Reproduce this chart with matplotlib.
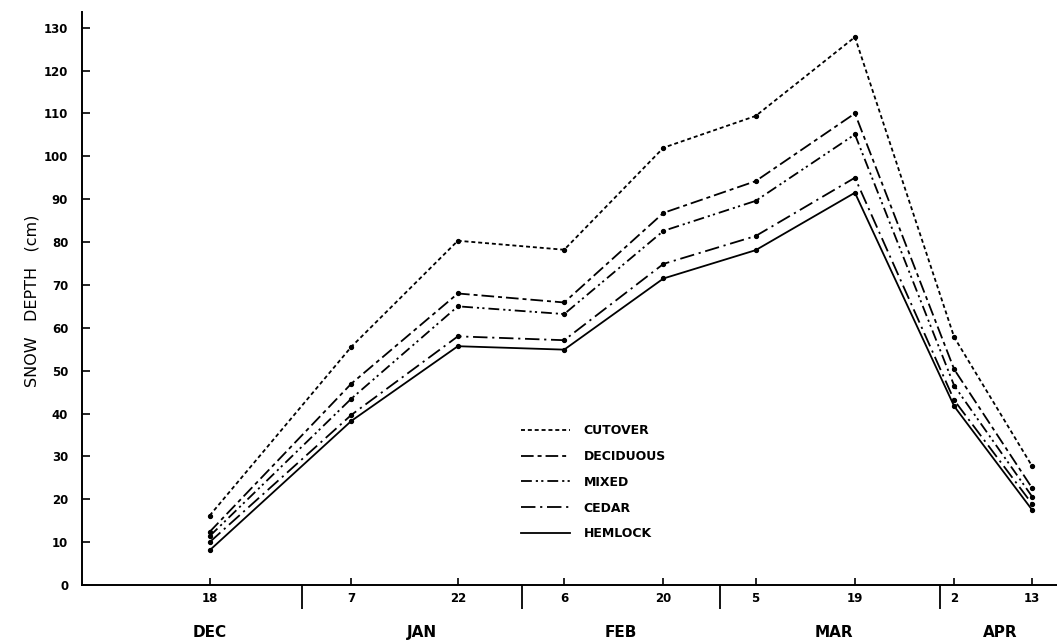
import matplotlib
matplotlib.use("Agg")
import matplotlib.pyplot as plt
import matplotlib.dates as mdates
import numpy as np

# ---- data ----
dates = ["1974-12-18", "1975-01-07", "1975-01-22", "1975-02-06", "1975-02-20",
         "1975-03-05", "1975-03-19", "1975-04-02", "1975-04-13"]
day_labels = ["18", "7", "22", "6", "20", "5", "19", "2", "13"]
months = ["DEC", "JAN", "FEB", "MAR", "APR"]

cutover   = [16.2, 55.6, 80.3, 78.2, 102.0, 109.4, 127.8, 57.8, 27.7]
deciduous = [12.4, 47.0, 68.0, 65.9, 86.8, 94.2, 110.0, 50.3, 22.6]
mixed     = [11.4, 43.5, 65.0, 63.2, 82.6, 89.6, 105.1, 46.5, 20.6]
cedar     = [10.0, 39.7, 58.0, 57.1, 74.9, 81.4, 95.0, 43.1, 18.9]
hemlock   = [8.1, 38.3, 55.7, 54.9, 71.5, 78.1, 91.5, 41.7, 17.5]

series_names = ["CUTOVER", "DECIDUOUS", "MIXED", "CEDAR", "HEMLOCK"]
series_vals = [cutover, deciduous, mixed, cedar, hemlock]

# ---- layout / style ----
styles = [(0, (2.2, 1.6)),
          (0, (7, 2.2, 2.2, 2.2)),
          (0, (6, 2.2, 1.2, 1.8, 1.2, 2.2)),
          (0, (8, 2.6, 1.2, 2.6)),
          "-"]
month_label_dates = ["1974-12-18", "1975-01-17", "1975-02-14", "1975-03-16", "1975-04-08T12"]
month_sep_dates = ["1974-12-31", "1975-01-31", "1975-02-28", "1975-03-31"]

x = mdates.date2num([np.datetime64(d) for d in dates])

fig = plt.figure(figsize=(10.57, 6.4), dpi=100)
ax = fig.add_axes([0.0776, 0.0859, 0.9224, 0.895])

for name, vals, ls in zip(series_names, series_vals, styles):
    ax.plot(x, vals, linestyle=ls, color="black", lw=1.3,
            marker="o", markersize=2.8, label=name)

ax.set_ylim(0, 133.6)
ax.set_xlim(mdates.date2num(np.datetime64("1974-11-30")),
            mdates.date2num(np.datetime64("1975-04-16T12")))

ax.set_yticks(np.arange(0, 131, 10))
ax.set_yticklabels([str(v) for v in range(0, 131, 10)],
                   fontsize=8.5, fontweight="bold")
ax.tick_params(axis="y", direction="in", length=6, width=1.2, pad=10)

ax.set_xticks(x)
ax.set_xticklabels(day_labels, fontsize=8.5, fontweight="bold")
ax.tick_params(axis="x", which="major", direction="in", length=5, width=1.2, pad=5)

sep = mdates.date2num([np.datetime64(d) for d in month_sep_dates])
ax.set_xticks(sep, minor=True)
ax.tick_params(axis="x", which="minor", direction="out", length=17, width=1.3,
               labelbottom=False)

for m, d in zip(months, month_label_dates):
    ax.text(mdates.date2num(np.datetime64(d)), -0.083, m, transform=ax.get_xaxis_transform(),
            ha="center", va="center", fontsize=11, fontweight="bold")

for s in ["top", "right"]:
    ax.spines[s].set_visible(False)
for s in ["left", "bottom"]:
    ax.spines[s].set_linewidth(1.4)

fig.text(0.03, 0.53, "SNOW   DEPTH   (cm)", rotation=90, ha="center", va="center",
         fontsize=11.5)

leg = ax.legend(loc="upper left", bbox_to_anchor=(0.493, 0.337),
                bbox_transform=fig.transFigure, frameon=False,
                handlelength=3.9, handletextpad=1.1, labelspacing=1.02,
                borderpad=0, borderaxespad=0,
                prop={"size": 9, "weight": "bold"})
for h in leg.get_lines():
    h.set_marker("")

fig.savefig("out.png", dpi=100)
